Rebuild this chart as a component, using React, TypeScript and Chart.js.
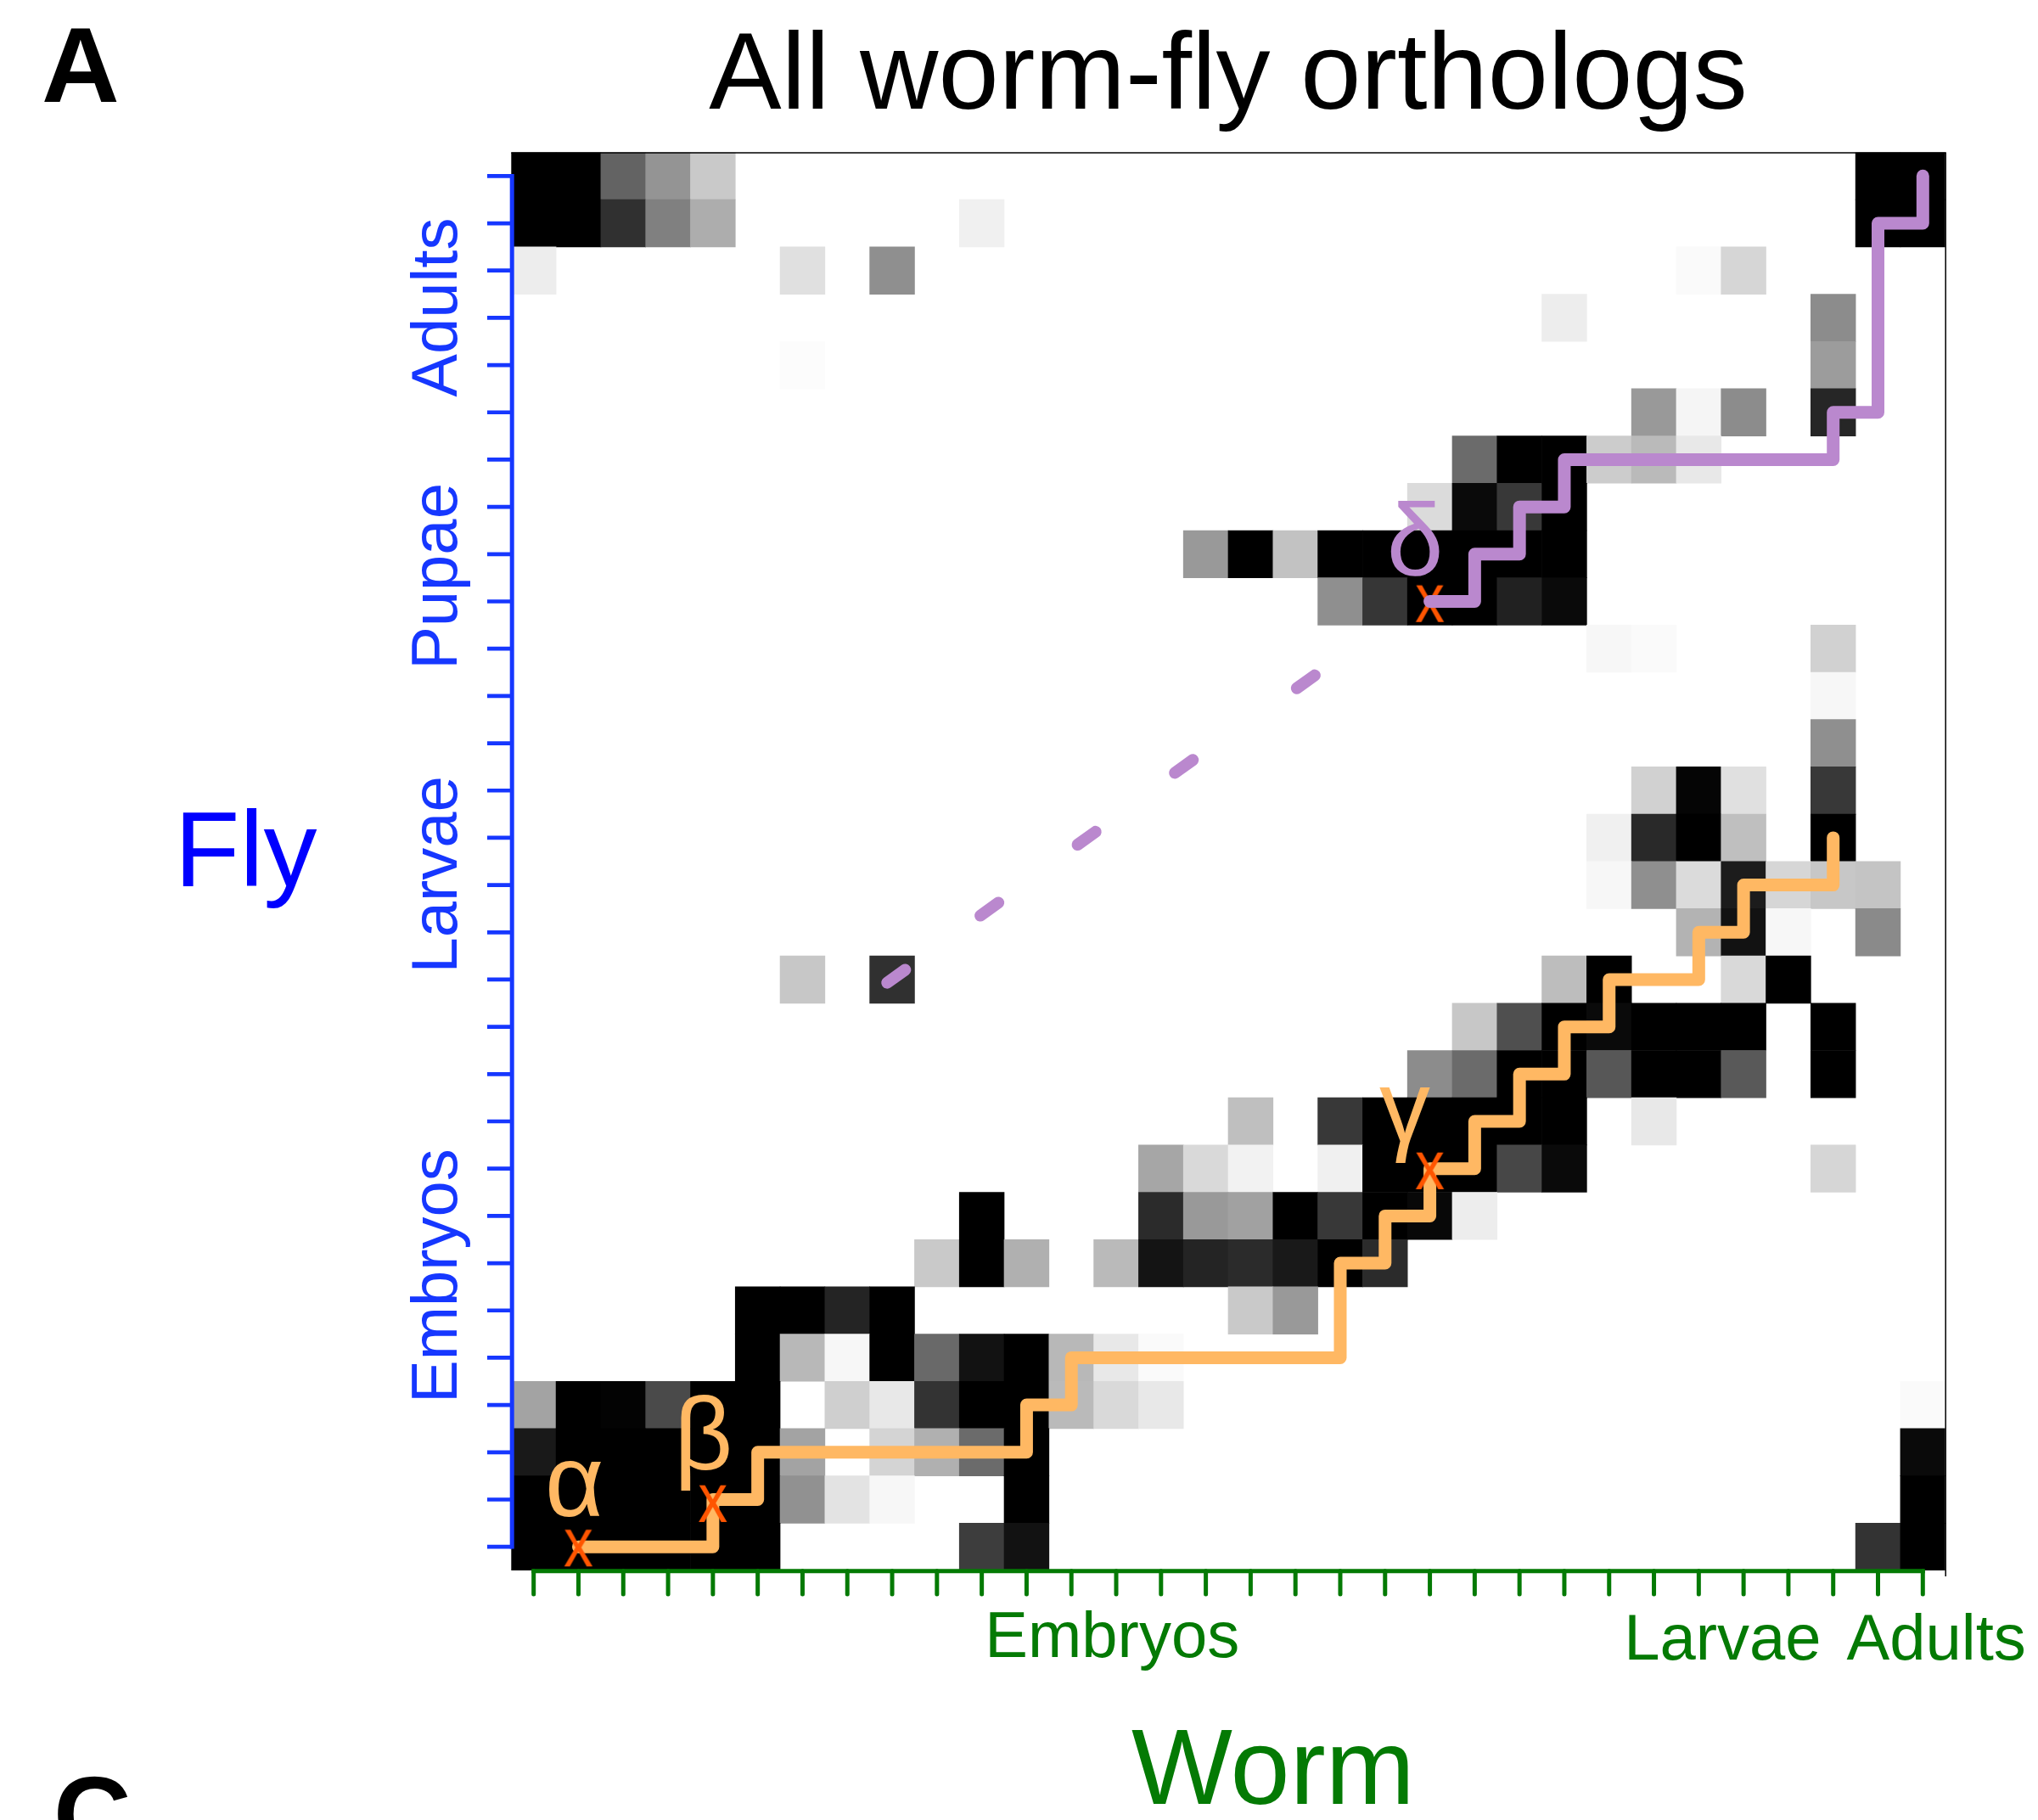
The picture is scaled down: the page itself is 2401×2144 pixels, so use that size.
import { useEffect, useRef } from 'react';
import { Chart, registerables } from 'chart.js';

Chart.register(...registerables);

// ---------------- data ----------------
const WORM_STAGE_COUNT = 32; // columns (worm samples)
const FLY_STAGE_COUNT = 30; // rows (fly samples), row 0 = top

const wormStageLabels = ['Embryos', 'Larvae', 'Adults'];
const wormStageCenters = [12.91, 26.53, 31.3];

const flyStageLabels = ['Adults', 'Pupae', 'Larvae', 'Embryos'];
const flyStageCenters = [2.78, 8.47, 14.78, 23.27];

// [fly row, worm column, similarity darkness 0 (white) .. 100 (black)]
const heatCells: [number, number, number][] = [
  [0, 0, 100], [0, 1, 100], [0, 2, 61], [0, 3, 42], [0, 4, 21], [0, 30, 100], [0, 31, 100],
  [1, 0, 100], [1, 1, 100], [1, 2, 81], [1, 3, 50], [1, 4, 32], [1, 10, 6], [1, 30, 100], [1, 31, 100],
  [2, 0, 7], [2, 6, 12], [2, 8, 44], [2, 26, 2], [2, 27, 16],
  [3, 23, 7], [3, 29, 45],
  [4, 6, 1], [4, 29, 39],
  [5, 25, 40], [5, 26, 4], [5, 27, 45], [5, 29, 85],
  [6, 21, 58], [6, 22, 100], [6, 23, 100], [6, 24, 20], [6, 25, 27], [6, 26, 9],
  [7, 20, 14], [7, 21, 96], [7, 22, 78], [7, 23, 100],
  [8, 15, 40], [8, 16, 100], [8, 17, 24], [8, 18, 100], [8, 19, 100], [8, 20, 100], [8, 21, 100], [8, 22, 100], [8, 23, 100],
  [9, 18, 44], [9, 19, 79], [9, 20, 100], [9, 21, 100], [9, 22, 87], [9, 23, 96],
  [10, 24, 3], [10, 25, 2], [10, 29, 18],
  [11, 29, 3],
  [12, 29, 44],
  [13, 25, 18], [13, 26, 98], [13, 27, 12], [13, 29, 78],
  [14, 24, 6], [14, 25, 84], [14, 26, 100], [14, 27, 25], [14, 29, 100],
  [15, 24, 3], [15, 25, 44], [15, 26, 14], [15, 27, 89], [15, 28, 16], [15, 29, 22], [15, 30, 23],
  [16, 26, 30], [16, 27, 93], [16, 28, 3], [16, 30, 46],
  [17, 6, 22], [17, 8, 81], [17, 23, 26], [17, 24, 100], [17, 27, 15], [17, 28, 100],
  [18, 21, 22], [18, 22, 69], [18, 23, 100], [18, 24, 96], [18, 25, 100], [18, 26, 100], [18, 27, 100], [18, 29, 100],
  [19, 20, 45], [19, 21, 58], [19, 22, 100], [19, 23, 100], [19, 24, 66], [19, 25, 100], [19, 26, 100], [19, 27, 65], [19, 29, 100],
  [20, 16, 25], [20, 18, 78], [20, 19, 100], [20, 20, 100], [20, 21, 100], [20, 22, 100], [20, 23, 100], [20, 25, 9],
  [21, 14, 35], [21, 15, 15], [21, 16, 5], [21, 18, 6], [21, 19, 100], [21, 20, 100], [21, 21, 100], [21, 22, 72], [21, 23, 96], [21, 29, 16],
  [22, 10, 100], [22, 14, 83], [22, 15, 40], [22, 16, 37], [22, 17, 100], [22, 18, 78], [22, 19, 100], [22, 20, 97], [22, 21, 7],
  [23, 9, 21], [23, 10, 100], [23, 11, 31], [23, 13, 27], [23, 14, 92], [23, 15, 86], [23, 16, 83], [23, 17, 90], [23, 18, 100], [23, 19, 83],
  [24, 5, 100], [24, 6, 100], [24, 7, 86], [24, 8, 100], [24, 16, 21], [24, 17, 40],
  [25, 5, 100], [25, 6, 28], [25, 7, 3], [25, 8, 100], [25, 9, 59], [25, 10, 93], [25, 11, 100], [25, 12, 28], [25, 13, 9], [25, 14, 2],
  [26, 0, 36], [26, 1, 100], [26, 2, 99], [26, 3, 71], [26, 4, 100], [26, 5, 100], [26, 7, 19], [26, 8, 9], [26, 9, 80], [26, 10, 100], [26, 11, 100], [26, 12, 27], [26, 13, 15], [26, 14, 9], [26, 31, 2],
  [27, 0, 90], [27, 1, 100], [27, 2, 100], [27, 3, 100], [27, 4, 100], [27, 5, 100], [27, 6, 36], [27, 8, 17], [27, 9, 31], [27, 10, 58], [27, 11, 100], [27, 31, 96],
  [28, 0, 100], [28, 1, 100], [28, 2, 100], [28, 3, 100], [28, 4, 100], [28, 5, 100], [28, 6, 43], [28, 7, 11], [28, 8, 3], [28, 11, 100], [28, 31, 100],
  [29, 0, 100], [29, 1, 100], [29, 2, 100], [29, 3, 100], [29, 4, 100], [29, 5, 100], [29, 10, 76], [29, 11, 93], [29, 30, 80], [29, 31, 100],
];

// alignment paths: [worm column, fly row]
const pathAlphaToGamma: [number, number][] = [
  [1, 29], [4, 29], [4, 28], [5, 28], [5, 27], [11, 27], [11, 26], [12, 26], [12, 25],
  [18, 25], [18, 23], [19, 23], [19, 22], [20, 22], [20, 21], [21, 21], [21, 20], [22, 20],
  [22, 19], [23, 19], [23, 18], [24, 18], [24, 17], [26, 17], [26, 16], [27, 16], [27, 15],
  [29, 15], [29, 14],
];
const pathDelta: [number, number][] = [
  [20, 9], [21, 9], [21, 8], [22, 8], [22, 7], [23, 7], [23, 6], [29, 6], [29, 5], [30, 5],
  [30, 1], [31, 1], [31, 0],
];
const deltaGuideX = [8.09, 10.17, 12.34, 14.51, 17.23];
const deltaGuideY = [16.93, 15.51, 14.01, 12.49, 10.7];

const crossingCols = [1, 4, 20, 20];
const crossingRows = [29.02, 28.08, 21.04, 9.04];

const greekLabels = ['α', 'β', 'γ', 'δ'];
const greekX = [0.91, 3.79, 19.44, 19.67];
const greekY = [28.35, 27.36, 20.43, 8.45];

// ---------------- styles ----------------
const FONT = '"Liberation Sans", Arial, Helvetica, sans-serif';
const BLUE = '#1637ff';
const FLY_BLUE = '#0000ff';
const GREEN = '#047a04';
const ORANGE = '#ffb863';
const PURPLE = '#ba88ce';
const RED = '#ff5500';
const DASH_HALF = 0.2;

function shade(v: number): string {
  const g = Math.round(255 * (1 - v / 100));
  return `rgb(${g},${g},${g})`;
}

function makeCrossMark(): HTMLCanvasElement {
  const c = document.createElement('canvas');
  c.width = 40;
  c.height = 50;
  const g = c.getContext('2d')!;
  g.fillStyle = RED;
  g.font = `81px ${FONT}`;
  g.textAlign = 'center';
  g.textBaseline = 'alphabetic';
  g.translate(20, 0);
  g.scale(0.86, 1);
  g.fillText('x', 0, 46.5);
  return c;
}

const decorations = {
  id: 'decorations',
  afterDraw(chart: any) {
    const { ctx, chartArea: a } = chart;
    const xs = chart.scales.x;
    const ys = chart.scales.y;
    ctx.save();

    // frame (top + right)
    ctx.strokeStyle = '#000';
    ctx.lineWidth = 1.5;
    ctx.lineCap = 'butt';
    ctx.beginPath();
    ctx.moveTo(a.left, a.top + 0.5);
    ctx.lineTo(a.right + 1, a.top + 0.5);
    ctx.moveTo(a.right + 0.5, a.top);
    ctx.lineTo(a.right + 0.5, a.bottom + 7);
    ctx.stroke();

    // fly axis (left, blue)
    const axisX = a.left + 0.9;
    ctx.strokeStyle = BLUE;
    ctx.lineWidth = 5;
    ctx.beginPath();
    ctx.moveTo(axisX, ys.getPixelForValue(0) - 2.4);
    ctx.lineTo(axisX, ys.getPixelForValue(FLY_STAGE_COUNT - 1) + 2.4);
    ctx.stroke();
    ctx.lineWidth = 4.7;
    ctx.beginPath();
    for (let r = 0; r < FLY_STAGE_COUNT; r++) {
      const py = ys.getPixelForValue(r);
      ctx.moveTo(a.left - 28.3, py);
      ctx.lineTo(axisX, py);
    }
    ctx.stroke();

    // worm axis (bottom, green)
    const axisY = a.bottom + 0.8;
    ctx.strokeStyle = GREEN;
    ctx.lineWidth = 5;
    ctx.beginPath();
    ctx.moveTo(xs.getPixelForValue(0) - 2.5, axisY);
    ctx.lineTo(xs.getPixelForValue(WORM_STAGE_COUNT - 1) + 2.5, axisY);
    ctx.stroke();
    ctx.lineCap = 'round';
    ctx.beginPath();
    for (let c = 0; c < WORM_STAGE_COUNT; c++) {
      const px = xs.getPixelForValue(c);
      ctx.moveTo(px, axisY);
      ctx.lineTo(px, a.bottom + 28);
    }
    ctx.stroke();

    // fly stage labels
    ctx.fillStyle = BLUE;
    ctx.font = `76px ${FONT}`;
    ctx.textAlign = 'center';
    ctx.textBaseline = 'alphabetic';
    flyStageLabels.forEach((lab, i) => {
      ctx.save();
      ctx.translate(a.left - 64, ys.getPixelForValue(flyStageCenters[i]));
      ctx.rotate(-Math.PI / 2);
      ctx.fillText(lab, 0, 0);
      ctx.restore();
    });

    // worm stage labels
    ctx.fillStyle = GREEN;
    wormStageLabels.forEach((lab, i) => {
      ctx.fillText(lab, xs.getPixelForValue(wormStageCenters[i]), a.bottom + (i === 0 ? 102 : 105));
    });

    // axis titles
    ctx.font = `126px ${FONT}`;
    ctx.fillText('Worm', xs.getPixelForValue(16.5), a.bottom + 275);
    ctx.fillStyle = FLY_BLUE;
    ctx.fillText('Fly', a.left - 312.7, ys.getPixelForValue(15.02));

    // title
    ctx.fillStyle = '#000';
    ctx.font = `128px ${FONT}`;
    ctx.fillText('All worm-fly orthologs', xs.getPixelForValue((WORM_STAGE_COUNT - 1) / 2), a.top - 51.5);

    // panel letters
    ctx.font = `bold 127px ${FONT}`;
    ctx.textAlign = 'left';
    ctx.fillText('A', 49, 119.5);
    ctx.fillText('C', 63, 2181);

    // greek labels
    ctx.font = `120px ${FONT}`;
    ctx.textAlign = 'center';
    greekLabels.forEach((lab, i) => {
      ctx.fillStyle = i === 3 ? PURPLE : ORANGE;
      ctx.fillText(lab, xs.getPixelForValue(greekX[i]), ys.getPixelForValue(greekY[i]));
    });

    ctx.restore();
  },
};

export default function App() {
  const ref = useRef<HTMLCanvasElement>(null);

  useEffect(() => {
    document.body.style.margin = '0';
    const canvas = ref.current;
    if (!canvas) return;

    const slope = (deltaGuideY[deltaGuideY.length - 1] - deltaGuideY[0]) /
      (deltaGuideX[deltaGuideX.length - 1] - deltaGuideX[0]);
    const dashData: any[] = [];
    deltaGuideX.forEach((cx, i) => {
      const cy = deltaGuideY[i];
      dashData.push({ x: cx - DASH_HALF, y: cy - DASH_HALF * slope });
      dashData.push({ x: cx + DASH_HALF, y: cy + DASH_HALF * slope });
      if (i < deltaGuideX.length - 1) {
        dashData.push({ x: (cx + deltaGuideX[i + 1]) / 2, y: null });
      }
    });

    const chart = new Chart(canvas, {
      type: 'bar',
      data: {
        datasets: [
          {
            type: 'bar',
            data: heatCells.map(([r, c]) => ({ x: c, y: [r - 0.5, r + 0.5] })) as any,
            backgroundColor: heatCells.map(([, , v]) => shade(v)),
            borderWidth: 0,
            barPercentage: 1,
            categoryPercentage: 1,
            grouped: false,
            order: 10,
          } as any,
          {
            type: 'line',
            data: pathAlphaToGamma.map(([c, r]) => ({ x: c, y: r })),
            borderColor: ORANGE,
            borderWidth: 15,
            borderCapStyle: 'round',
            borderJoinStyle: 'round',
            pointRadius: 0,
            fill: false,
            tension: 0,
            order: 4,
          } as any,
          {
            type: 'line',
            data: crossingCols.map((c, i) => ({ x: c, y: crossingRows[i] })),
            showLine: false,
            pointStyle: makeCrossMark(),
            pointRadius: 10,
            order: 3,
          } as any,
          {
            type: 'line',
            data: pathDelta.map(([c, r]) => ({ x: c, y: r })),
            borderColor: PURPLE,
            borderWidth: 15,
            borderCapStyle: 'round',
            borderJoinStyle: 'round',
            pointRadius: 0,
            fill: false,
            tension: 0,
            order: 2,
          } as any,
          {
            type: 'line',
            data: dashData,
            borderColor: PURPLE,
            borderWidth: 14,
            borderCapStyle: 'round',
            pointRadius: 0,
            fill: false,
            spanGaps: false,
            tension: 0,
            order: 1,
          } as any,
        ],
      },
      options: {
        responsive: false,
        animation: false,
        devicePixelRatio: 1,
        events: [],
        layout: { padding: { left: 602.3, top: 179.5, right: 109.3, bottom: 294 } },
        plugins: {
          legend: { display: false },
          tooltip: { enabled: false },
          title: { display: false },
        },
        scales: {
          x: {
            type: 'linear',
            min: -0.5,
            max: WORM_STAGE_COUNT - 0.5,
            offset: false,
            display: false,
            ticks: { stepSize: 1, includeBounds: false },
            grid: { display: false },
          },
          y: {
            type: 'linear',
            min: -0.5,
            max: FLY_STAGE_COUNT - 0.5,
            reverse: true,
            display: false,
            ticks: { stepSize: 1, includeBounds: false },
            grid: { display: false },
          },
        },
      } as any,
      plugins: [decorations],
    });

    return () => chart.destroy();
  }, []);

  return <canvas ref={ref} width={2401} height={2144} style={{ display: 'block' }} />;
}
